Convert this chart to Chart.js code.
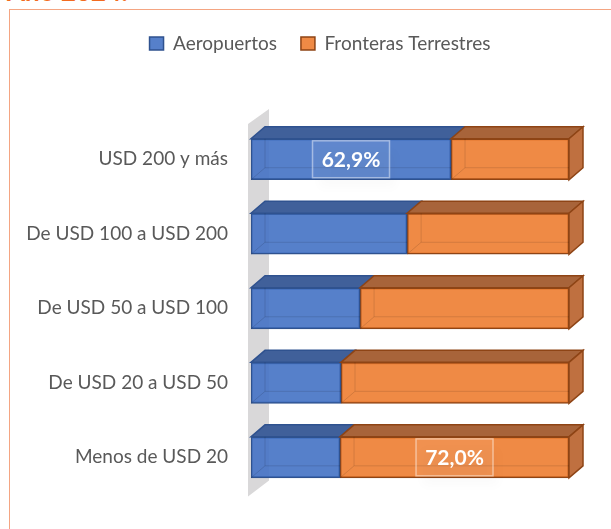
<!DOCTYPE html>
<html>
<head>
<meta charset="utf-8">
<script src="https://cdn.jsdelivr.net/npm/chart.js@4.4.1/dist/chart.umd.min.js"></script>
<style>
body { margin: 0; background: #fff; width: 611px; height: 529px; overflow: hidden; position: relative; }
#titulo { position: absolute; left: 7px; top: -25px; color: #F26B21; font: bold 26px Lato; white-space: nowrap; }
#marco { position: absolute; left: 9px; top: 9px; width: 660px; height: 580px; border: 1.5px solid #F4A582; }
#caja { position: absolute; left: 0; top: 0; width: 611px; height: 529px; }
</style>
</head>
<body>
<div id="titulo">Año 2024:</div>
<div id="marco"></div>
<div id="caja"><canvas id="grafico"></canvas></div>
<script>
const categorias = ['USD 200 y más', 'De USD 100 a USD 200', 'De USD 50 a USD 100', 'De USD 20 a USD 50', 'Menos de USD 20'];
const aeropuertos = [62.9, 49.1, 34.3, 28.3, 28.0];
const fronteras = [37.1, 50.9, 65.7, 71.7, 72.0];
// indices de las barras que llevan etiqueta
const etiquetasAeropuertos = [0];
const etiquetasFronteras = [4];

// profundidad del efecto 3D
const dx = 14, dy = 12;

const estilos = [
    { frente: 'rgba(68,114,196,0.9)', arriba: '#40609A', lado: '#3A5A92', borde: '#2F528F', etiquetas: etiquetasAeropuertos },
    { frente: 'rgba(237,125,49,0.9)', arriba: '#A8643A', lado: '#BF7040', borde: '#8E4415', etiquetas: etiquetasFronteras }
];

function poligono(ctx, puntos, relleno, borde) {
    ctx.beginPath();
    ctx.moveTo(puntos[0][0], puntos[0][1]);
    for (let i = 1; i < puntos.length; i++) ctx.lineTo(puntos[i][0], puntos[i][1]);
    ctx.closePath();
    ctx.fillStyle = relleno;
    ctx.fill();
    ctx.lineWidth = 1.5;
    ctx.strokeStyle = borde;
    ctx.stroke();
}

const caras3d = {
    id: 'caras3d',
    afterLayout(chart) {
        // la leyenda va centrada más a la derecha que el bloque de etiquetas
        chart.legend.left = 71;
    },
    beforeDatasetsDraw(chart) {
        // pared gris detrás de las barras
        const ctx = chart.ctx;
        const a = chart.chartArea;
        ctx.save();
        ctx.beginPath();
        ctx.moveTo(a.left - 3, a.top + 2);
        ctx.lineTo(a.left + 18, a.top - 13);
        ctx.lineTo(a.left + 18, a.bottom - 14);
        ctx.lineTo(a.left - 3, a.bottom + 2);
        ctx.closePath();
        ctx.fillStyle = '#D9D8D9';
        ctx.fill();
        ctx.restore();
    },
    afterDatasetsDraw(chart) {
        const ctx = chart.ctx;
        ctx.save();
        const ultimo = chart.data.datasets.length - 1;
        chart.data.datasets.forEach((ds, d) => {
            const est = estilos[d];
            chart.getDatasetMeta(d).data.forEach((bar) => {
                const p = bar.getProps(['x', 'y', 'base', 'height']);
                const top = p.y - p.height / 2;
                const bottom = p.y + p.height / 2;
                // cara superior
                poligono(ctx, [[p.base, top], [p.x, top], [p.x + dx, top - dy], [p.base + dx, top - dy]], est.arriba, est.borde);
                // cara lateral
                if (d === ultimo) {
                    poligono(ctx, [[p.x, top], [p.x + dx, top - dy], [p.x + dx, bottom - dy], [p.x, bottom]], est.lado, est.borde);
                }
                // aristas traseras vistas a través del frente
                ctx.beginPath();
                ctx.moveTo(p.base + dx, top);
                ctx.lineTo(p.base + dx, bottom - dy);
                ctx.lineTo(p.x, bottom - dy);
                ctx.moveTo(p.base, bottom);
                ctx.lineTo(p.base + dx, bottom - dy);
                ctx.lineWidth = 1;
                ctx.strokeStyle = 'rgba(0,0,0,0.12)';
                ctx.stroke();
            });
        });
        ctx.restore();
    },
    afterDraw(chart) {
        const ctx = chart.ctx;
        ctx.save();
        chart.data.datasets.forEach((ds, d) => {
            const meta = chart.getDatasetMeta(d);
            estilos[d].etiquetas.forEach((i) => {
                const p = meta.data[i].getProps(['x', 'y', 'base']);
                const cx = (p.x + p.base) / 2;
                const w = 77, h = 37;
                ctx.save();
                ctx.shadowColor = 'rgba(0,0,0,0.3)';
                ctx.shadowBlur = 10;
                ctx.shadowOffsetX = 6;
                ctx.shadowOffsetY = 10;
                ctx.fillStyle = 'rgba(255,255,255,0.06)';
                ctx.fillRect(cx - w / 2, p.y - h / 2, w, h);
                ctx.restore();
                ctx.strokeStyle = 'rgba(255,255,255,0.45)';
                ctx.lineWidth = 1.5;
                ctx.strokeRect(cx - w / 2, p.y - h / 2, w, h);
                ctx.fillStyle = '#fff';
                ctx.font = 'bold 21px Lato';
                ctx.textAlign = 'center';
                ctx.textBaseline = 'middle';
                ctx.fillText(ds.data[i].toFixed(1).replace('.', ',') + '%', cx, p.y + 1);
            });
        });
        ctx.restore();
    }
};

new Chart(document.getElementById('grafico'), {
    type: 'bar',
    data: {
        labels: categorias,
        datasets: [
            {
                label: 'Aeropuertos',
                data: aeropuertos,
                backgroundColor: estilos[0].frente,
                borderColor: estilos[0].borde,
                borderWidth: 1.5,
                borderSkipped: false,
                barThickness: 41
            },
            {
                label: 'Fronteras Terrestres',
                data: fronteras,
                backgroundColor: estilos[1].frente,
                borderColor: estilos[1].borde,
                borderWidth: 1.5,
                borderSkipped: false,
                barThickness: 41
            }
        ]
    },
    options: {
        indexAxis: 'y',
        responsive: true,
        maintainAspectRatio: false,
        animation: false,
        layout: { padding: { left: 0, right: 42, top: 10, bottom: 34 } },
        plugins: {
            legend: {
                position: 'top',
                labels: {
                    boxWidth: 14,
                    boxHeight: 13,
                    padding: 24,
                    color: '#595959',
                    font: { family: 'Lato', size: 19 }
                }
            },
            tooltip: { enabled: false }
        },
        scales: {
            x: {
                position: 'top',
                stacked: true,
                min: 0,
                max: 100,
                ticks: { display: false },
                grid: { display: false },
                border: { display: false },
                afterFit(scale) { scale.height = 59; }
            },
            y: {
                stacked: true,
                grid: { display: false, drawTicks: false },
                border: { display: false },
                ticks: {
                    padding: 23,
                    color: '#595959',
                    font: { family: 'Lato', size: 19 }
                },
                afterFit(scale) { scale.width = 251; }
            }
        }
    },
    plugins: [caras3d]
});
</script>
</body>
</html>
